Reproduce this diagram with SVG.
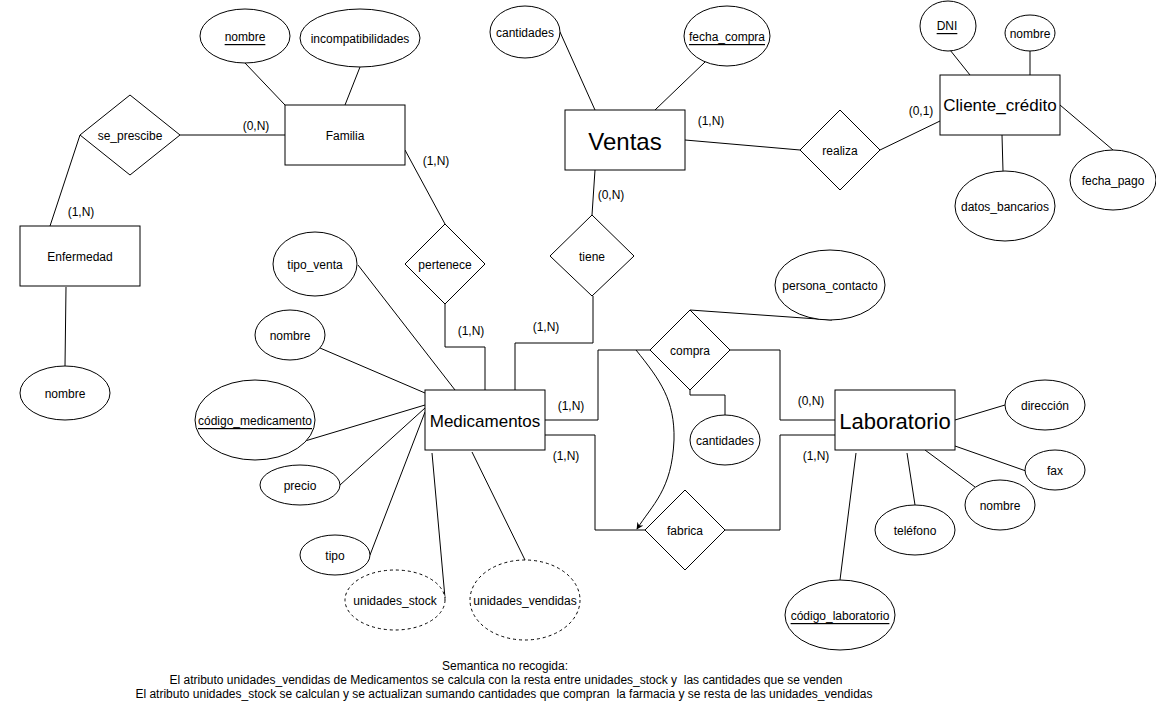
<svg xmlns="http://www.w3.org/2000/svg" width="1156" height="708" viewBox="0 0 1156 708">
<style>
text{font-family:"Liberation Sans",Arial,sans-serif;font-size:12px;fill:#000;text-anchor:middle;dominant-baseline:central}
.ent rect,.rel polygon,.att ellipse{fill:#fff;stroke:#000;stroke-width:1}
.att.derived ellipse{stroke-dasharray:3 3}
.key{text-decoration:underline}
#connectors path,#connectors line{fill:none;stroke:#000;stroke-width:1}
.big{font-size:17px}
</style>
<defs>
<marker id="arrow" viewBox="0 0 10 10" refX="9" refY="5" markerWidth="7" markerHeight="7" orient="auto-start-reverse" markerUnits="userSpaceOnUse">
<path d="M0,0 L10,5 L0,10 L3,5 Z" fill="#000"/>
</marker>
</defs>
<rect width="1156" height="708" fill="#fff"/>
<g id="connectors">
<line x1="245" y1="63" x2="285" y2="105"/>
<line x1="360" y1="67" x2="345" y2="105"/>
<line x1="180" y1="135" x2="285" y2="135"/>
<line x1="80" y1="135" x2="50" y2="226"/>
<line x1="66" y1="287" x2="65" y2="366"/>
<line x1="405" y1="150" x2="445" y2="224"/>
<path d="M445,304 V347 H485 V390"/>
<path d="M593,296 V343 H515 V390"/>
<line x1="592" y1="215" x2="595" y2="170"/>
<line x1="560" y1="32" x2="595" y2="110"/>
<line x1="705" y1="62" x2="655" y2="110"/>
<line x1="685" y1="140" x2="800" y2="150"/>
<line x1="880" y1="150" x2="940" y2="121"/>
<line x1="950" y1="50" x2="970" y2="75"/>
<line x1="1030" y1="51" x2="1030" y2="75"/>
<line x1="1003" y1="171" x2="1002" y2="135"/>
<line x1="1113" y1="150" x2="1060" y2="105"/>
<line x1="358" y1="265" x2="455" y2="390"/>
<line x1="320" y1="348" x2="425" y2="393"/>
<line x1="285" y1="447" x2="425" y2="405"/>
<line x1="340" y1="485" x2="425" y2="408"/>
<line x1="370" y1="555" x2="425" y2="412"/>
<line x1="445" y1="598" x2="432" y2="453"/>
<line x1="525" y1="560" x2="472" y2="452"/>
<path d="M545,420 H598 V350 H650"/>
<path d="M545,435 H595 V530 H645"/>
<path d="M730,350 H780 V420 H835"/>
<path d="M725,530 H780 V435 H835"/>
<path d="M690,390 V395 H725 V415"/>
<line x1="690" y1="310" x2="832" y2="320"/>
<line x1="840" y1="580" x2="856" y2="453"/>
<line x1="907" y1="453" x2="915" y2="505"/>
<line x1="925" y1="450" x2="975" y2="487"/>
<line x1="955" y1="446" x2="1026" y2="471"/>
<line x1="955" y1="420" x2="1005" y2="405"/>
<path d="M636,350 C660,380 675,400 674,440 C672,490 652,505 637,529" marker-end="url(#arrow)"/>
<text x="256" y="126">(0,N)</text>
<text x="81" y="212">(1,N)</text>
<text x="436" y="161">(1,N)</text>
<text x="471" y="331">(1,N)</text>
<text x="546" y="327">(1,N)</text>
<text x="611" y="195">(0,N)</text>
<text x="711" y="121">(1,N)</text>
<text x="921" y="111">(0,1)</text>
<text x="571" y="406">(1,N)</text>
<text x="566" y="456">(1,N)</text>
<text x="811" y="401">(0,N)</text>
<text x="816" y="456">(1,N)</text>
</g>
<g id="Familia" class="ent"><rect x="285" y="105" width="120" height="60"/><text x="345" y="136">Familia</text></g>
<g id="Enfermedad" class="ent"><rect x="20" y="226" width="120" height="60"/><text x="80" y="257">Enfermedad</text></g>
<g id="Ventas" class="ent"><rect x="565" y="110" width="120" height="60"/><text x="625" y="141" style="font-size:24px">Ventas</text></g>
<g id="Cliente_credito" class="ent"><rect x="940" y="75" width="120" height="60"/><text x="1000" y="105" class="big">Cliente_crédito</text></g>
<g id="Medicamentos" class="ent"><rect x="425" y="390" width="120" height="60"/><text x="485" y="421" class="big">Medicamentos</text></g>
<g id="Laboratorio" class="ent"><rect x="835" y="390" width="120" height="60"/><text x="895" y="421" style="font-size:22px">Laboratorio</text></g>
<g id="se_prescibe" class="rel"><polygon points="80,135 130,95 180,135 130,175"/><text x="130" y="136">se_prescibe</text></g>
<g id="pertenece" class="rel"><polygon points="405,264 445,224 485,264 445,304"/><text x="445" y="265">pertenece</text></g>
<g id="tiene" class="rel"><polygon points="550,256 592,215 634,256 592,296"/><text x="592" y="257">tiene</text></g>
<g id="realiza" class="rel"><polygon points="800,150 840,110 880,150 840,190"/><text x="840" y="151">realiza</text></g>
<g id="compra" class="rel"><polygon points="650,350 690,310 730,350 690,390"/><text x="690" y="351">compra</text></g>
<g id="fabrica" class="rel"><polygon points="645,530 685,490 725,530 685,570"/><text x="685" y="531">fabrica</text></g>
<g id="fam_nombre" class="att"><ellipse cx="245" cy="36" rx="45" ry="27"/><text x="245" y="37" class="key">nombre</text></g>
<g id="fam_incomp" class="att"><ellipse cx="360" cy="38" rx="60" ry="29"/><text x="360" y="39">incompatibilidades</text></g>
<g id="enf_nombre" class="att"><ellipse cx="65" cy="393" rx="45" ry="27"/><text x="65" y="394">nombre</text></g>
<g id="ven_cantidades" class="att"><ellipse cx="525" cy="32" rx="35" ry="26"/><text x="525" y="33">cantidades</text></g>
<g id="ven_fecha" class="att"><ellipse cx="727" cy="36" rx="43" ry="30"/><text x="727" y="37" class="key">fecha_compra</text></g>
<g id="cli_dni" class="att"><ellipse cx="948" cy="26" rx="28" ry="25"/><text x="947" y="26" class="key">DNI</text></g>
<g id="cli_nombre" class="att"><ellipse cx="1030" cy="33" rx="25" ry="18"/><text x="1030" y="34">nombre</text></g>
<g id="cli_datos" class="att"><ellipse cx="1005" cy="206" rx="50" ry="35"/><text x="1005" y="207">datos_bancarios</text></g>
<g id="cli_fecha" class="att"><ellipse cx="1113" cy="180" rx="43" ry="30"/><text x="1113" y="181">fecha_pago</text></g>
<g id="persona_contacto" class="att"><ellipse cx="830" cy="285" rx="55" ry="35"/><text x="830" y="286">persona_contacto</text></g>
<g id="tipo_venta" class="att"><ellipse cx="315" cy="264" rx="42" ry="32"/><text x="315" y="265">tipo_venta</text></g>
<g id="med_nombre" class="att"><ellipse cx="290" cy="335" rx="35" ry="25"/><text x="290" y="336">nombre</text></g>
<g id="codigo_medicamento" class="att"><ellipse cx="255" cy="420" rx="60" ry="40"/><text x="255" y="421" class="key">código_medicamento</text></g>
<g id="precio" class="att"><ellipse cx="300" cy="485" rx="40" ry="20"/><text x="300" y="486">precio</text></g>
<g id="tipo" class="att"><ellipse cx="335" cy="555" rx="35" ry="20"/><text x="335" y="556">tipo</text></g>
<g id="unidades_stock" class="att derived"><ellipse cx="395" cy="600" rx="50" ry="30"/><text x="395" y="601">unidades_stock</text></g>
<g id="unidades_vendidas" class="att derived"><ellipse cx="525" cy="600" rx="55" ry="40"/><text x="525" y="601">unidades_vendidas</text></g>
<g id="compra_cantidades" class="att"><ellipse cx="725" cy="440" rx="35" ry="25"/><text x="725" y="441">cantidades</text></g>
<g id="direccion" class="att"><ellipse cx="1045" cy="405" rx="40" ry="25"/><text x="1045" y="406">dirección</text></g>
<g id="fax" class="att"><ellipse cx="1055" cy="470" rx="30" ry="20"/><text x="1055" y="471">fax</text></g>
<g id="lab_nombre" class="att"><ellipse cx="1000" cy="505" rx="35" ry="25"/><text x="1000" y="506">nombre</text></g>
<g id="telefono" class="att"><ellipse cx="915" cy="530" rx="40" ry="25"/><text x="915" y="531">teléfono</text></g>
<g id="codigo_laboratorio" class="att"><ellipse cx="840" cy="615" rx="55" ry="35"/><text x="840" y="616" class="key">código_laboratorio</text></g>
<g id="nota">
<text x="505" y="666">Semantica no recogida:</text>
<text x="506" y="680" xml:space="preserve">El atributo unidades_vendidas de Medicamentos se calcula con la resta entre unidades_stock y  las cantidades que se venden</text>
<text x="504" y="694" xml:space="preserve">El atributo unidades_stock se calculan y se actualizan sumando cantidades que compran  la farmacia y se resta de las unidades_vendidas</text>
</g>
</svg>
